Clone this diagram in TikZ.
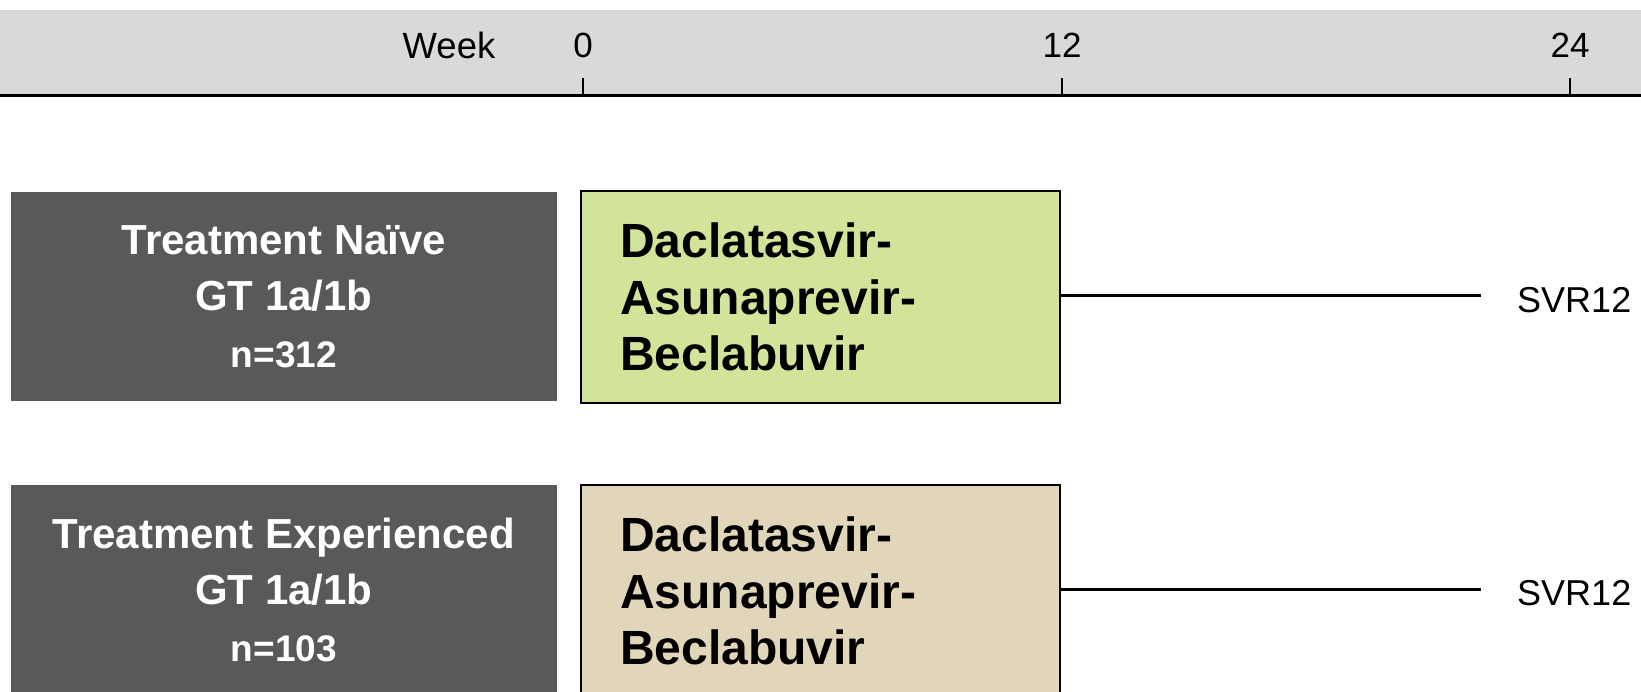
\documentclass[tikz,border=0pt]{standalone}
\usepackage{fontspec}
\setmainfont{Liberation Sans}
\definecolor{bandgray}{HTML}{D9D9D9}
\definecolor{groupgray}{HTML}{595959}
\definecolor{naivegreen}{HTML}{D1E499}
\definecolor{expbeige}{HTML}{E2D6BA}
\tikzset{
  group/.style={fill=groupgray, text=white, draw=none, anchor=north west,
    minimum width=546.5pt, minimum height=209.5pt, inner sep=0pt,
    align=center, font=\fontsize{42}{56.5}\selectfont\bfseries},
  regimen/.style={draw=black, line width=2pt, anchor=north west,
    minimum height=212pt, inner xsep=39pt, inner ysep=0pt,
    text width=401pt, align=left,
    font=\fontsize{48}{56.5}\selectfont\bfseries},
  weeklabel/.style={font=\fontsize{35}{40}\selectfont, inner sep=0pt},
  outcome/.style={font=\fontsize{36}{40}\selectfont, anchor=west, inner sep=0pt},
  tick/.style={line width=1.5pt},
  armline/.style={line width=3pt}
}
\begin{document}
\begin{tikzpicture}[x=1pt, y=-1pt]
  \useasboundingbox (0,0) rectangle (1641,692);
  \clip (0,0) rectangle (1641,692);

  % timeline header
  \fill[bandgray] (0,10.5) rectangle (1641,96);
  \draw[line width=3pt] (0,96) -- (1641,96);
  \coordinate (t0) at (583,96);
  \coordinate (t12) at (1062,96);
  \coordinate (t24) at (1570,96);
  \draw[tick] (t0) -- ++(0,-18);
  \draw[tick] (t12) -- ++(0,-18);
  \draw[tick] (t24) -- ++(0,-18);
  \node[weeklabel, font=\fontsize{36.5}{40}\selectfont] (week) at (449,45) {Week};
  \node[weeklabel] (w0) at (583,45) {0};
  \node[weeklabel] (w12) at (1062,45) {12};
  \node[weeklabel] (w24) at (1570,45) {24};

  % arm 1: treatment naive
  \node[group] (g1) at (10.5,191.5)
    {Treatment Naïve\\GT 1a/1b\\{\fontsize{37}{56.5}\selectfont n=312}};
  \node[regimen, fill=naivegreen] (d1) at (580,190)
    {Daclatasvir-\\Asunaprevir-\\Beclabuvir};
  \node[outcome] (s1) at (1517,300) {SVR12};
  \coordinate (e1) at (1481,296);
  \draw[armline] (d1.east |- e1) -- (e1);

  % arm 2: treatment experienced
  \node[group] (g2) at (10.5,484.6)
    {Treatment Experienced\\GT 1a/1b\\{\fontsize{37}{56.5}\selectfont n=103}};
  \node[regimen, fill=expbeige] (d2) at (580,484)
    {Daclatasvir-\\Asunaprevir-\\Beclabuvir};
  \node[outcome] (s2) at (1517,593) {SVR12};
  \coordinate (e2) at (1481,589);
  \draw[armline] (d2.east |- e2) -- (e2);
\end{tikzpicture}
\end{document}
